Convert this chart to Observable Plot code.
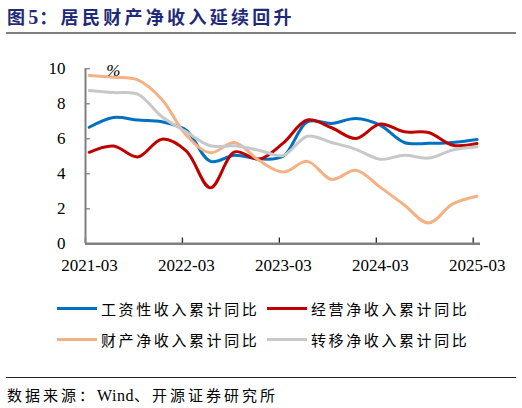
<!DOCTYPE html>
<html><head><meta charset="utf-8">
<script src="https://cdn.jsdelivr.net/npm/d3@7"></script>
<script src="https://cdn.jsdelivr.net/npm/@observablehq/plot@0.6"></script>
<style>
body{margin:0;width:522px;height:408px;position:relative;background:#fff;overflow:hidden;font-family:"Noto Sans CJK SC",sans-serif;}
#title{position:absolute;left:7px;top:3px;font-size:18px;font-weight:bold;color:#1f2a78;letter-spacing:3.3px;white-space:nowrap;line-height:26px;}
#title .n{font-family:"Liberation Serif",serif;font-size:20px;letter-spacing:1px;}
#hr1{position:absolute;left:6px;width:510px;top:32px;height:2px;background:#7f7f7f;}
#hr2{position:absolute;left:6px;width:510px;top:377px;height:1px;background:#222;}
#chart{position:absolute;left:0;top:0;}
.leg{position:absolute;display:flex;align-items:center;font-size:15px;letter-spacing:2.6px;color:#000;white-space:nowrap;height:20px;}
.sw{width:40px;height:3px;margin-right:4px;}
#src{position:absolute;left:7px;top:384px;font-size:15px;letter-spacing:3px;color:#000;white-space:nowrap;line-height:22px;}
#src .w{font-family:"Liberation Serif",serif;font-size:16px;letter-spacing:0.5px;}
</style></head>
<body>
<div id="title">图<span class="n">5</span>：居民财产净收入延续回升</div>
<div id="hr1"></div>
<div id="chart"></div>
<div id="legend"></div>
<div id="hr2"></div>
<div id="src">数据来源：<span class="w">Wind</span>、开源证券研究所</div>
<script>
const periods = ["2021-03","2021-06","2021-09","2021-12","2022-03","2022-06","2022-09","2022-12","2023-03","2023-06","2023-09","2023-12","2024-03","2024-06","2024-09","2024-12","2025-03"];
const tickLabels = ["2021-03","2022-03","2023-03","2024-03","2025-03"];
const yTicks = [0,2,4,6,8,10];
const seriesNames = ["工资性收入累计同比","经营净收入累计同比","财产净收入累计同比","转移净收入累计同比"];
const seriesColors = ["#0070c0","#c00000","#f4b183","#c8c8c8"];
const wage     = [6.66,7.22,7.07,6.97,6.49,4.71,5.06,4.85,5.00,6.97,6.88,7.16,6.78,5.79,5.74,5.79,5.96];
const business = [5.23,5.59,4.96,5.98,5.31,3.20,5.25,4.83,5.75,7.07,6.63,6.02,6.84,6.40,6.36,5.63,5.73];
const property = [9.62,9.52,9.37,8.25,6.21,5.20,5.79,4.77,4.10,4.71,3.68,4.20,3.24,2.22,1.19,2.28,2.72];
const transfer = [8.76,8.64,8.55,7.26,6.40,5.60,5.60,5.35,5.05,6.15,5.79,5.40,4.83,5.06,4.90,5.36,5.54];

const allSeries = [wage, business, property, transfer];
const rows = [];
allSeries.forEach((vals, s) => vals.forEach((v, i) => rows.push({s: seriesNames[s], x: i + 0.155, v})));
const tickIdx = tickLabels.map(l => periods.indexOf(l));

const chart = Plot.plot({
  width: 522, height: 290,
  marginTop: 68.3, marginBottom: 46.7, marginLeft: 85, marginRight: 42,
  x: {domain: [0, 16.3], axis: null},
  y: {domain: [0, 10], axis: null},
  color: {domain: seriesNames, range: seriesColors},
  style: {fontFamily: "'Liberation Serif', serif", fontSize: "17px", color: "#000", background: "transparent"},
  marks: [
    Plot.axisY(yTicks, {tickSize: 0, tickPadding: 20, fontSize: 17, fill: "#000", label: null}),
    Plot.axisX(tickIdx, {tickSize: 0, tickPadding: 15, dx: 4, fontSize: 17, fill: "#000", label: null,
      tickFormat: (d) => tickLabels[tickIdx.indexOf(d)]}),
    Plot.ruleY(yTicks.slice(1), {y: d => d, x1: 0, x2: 0.2, stroke: "#7f7f7f", strokeWidth: 1.3}),
    Plot.ruleX(tickIdx, {x: d => d, y1: 0, y2: 0.33, stroke: "#222", strokeWidth: 1.3}),
    Plot.line(rows, {x: "x", y: "v", z: "s", stroke: "s", strokeWidth: 3, curve: "catmull-rom"}),
    Plot.ruleX([0], {y1: 0, y2: 10, stroke: "#7f7f7f", strokeWidth: 2}),
    Plot.ruleY([0], {x1: 0, x2: 16.3, stroke: "#7f7f7f", strokeWidth: 2.5}),
    Plot.text(["%"], {x: 1.15, y: 10, dy: 2, fontSize: 17, fill: "#000", fontStyle: "italic"})
  ]
});
document.getElementById("chart").appendChild(chart);

const legend = document.getElementById("legend");
const legPos = [[57,298],[267,298],[57,329],[267,329]];
seriesNames.forEach((n, k) => {
  const d = document.createElement("div");
  d.className = "leg";
  d.style.left = legPos[k][0] + "px";
  d.style.top = legPos[k][1] + "px";
  d.innerHTML = `<span class="sw" style="background:${seriesColors[k]}"></span><span>${n}</span>`;
  legend.appendChild(d);
});
</script>
</body></html>
